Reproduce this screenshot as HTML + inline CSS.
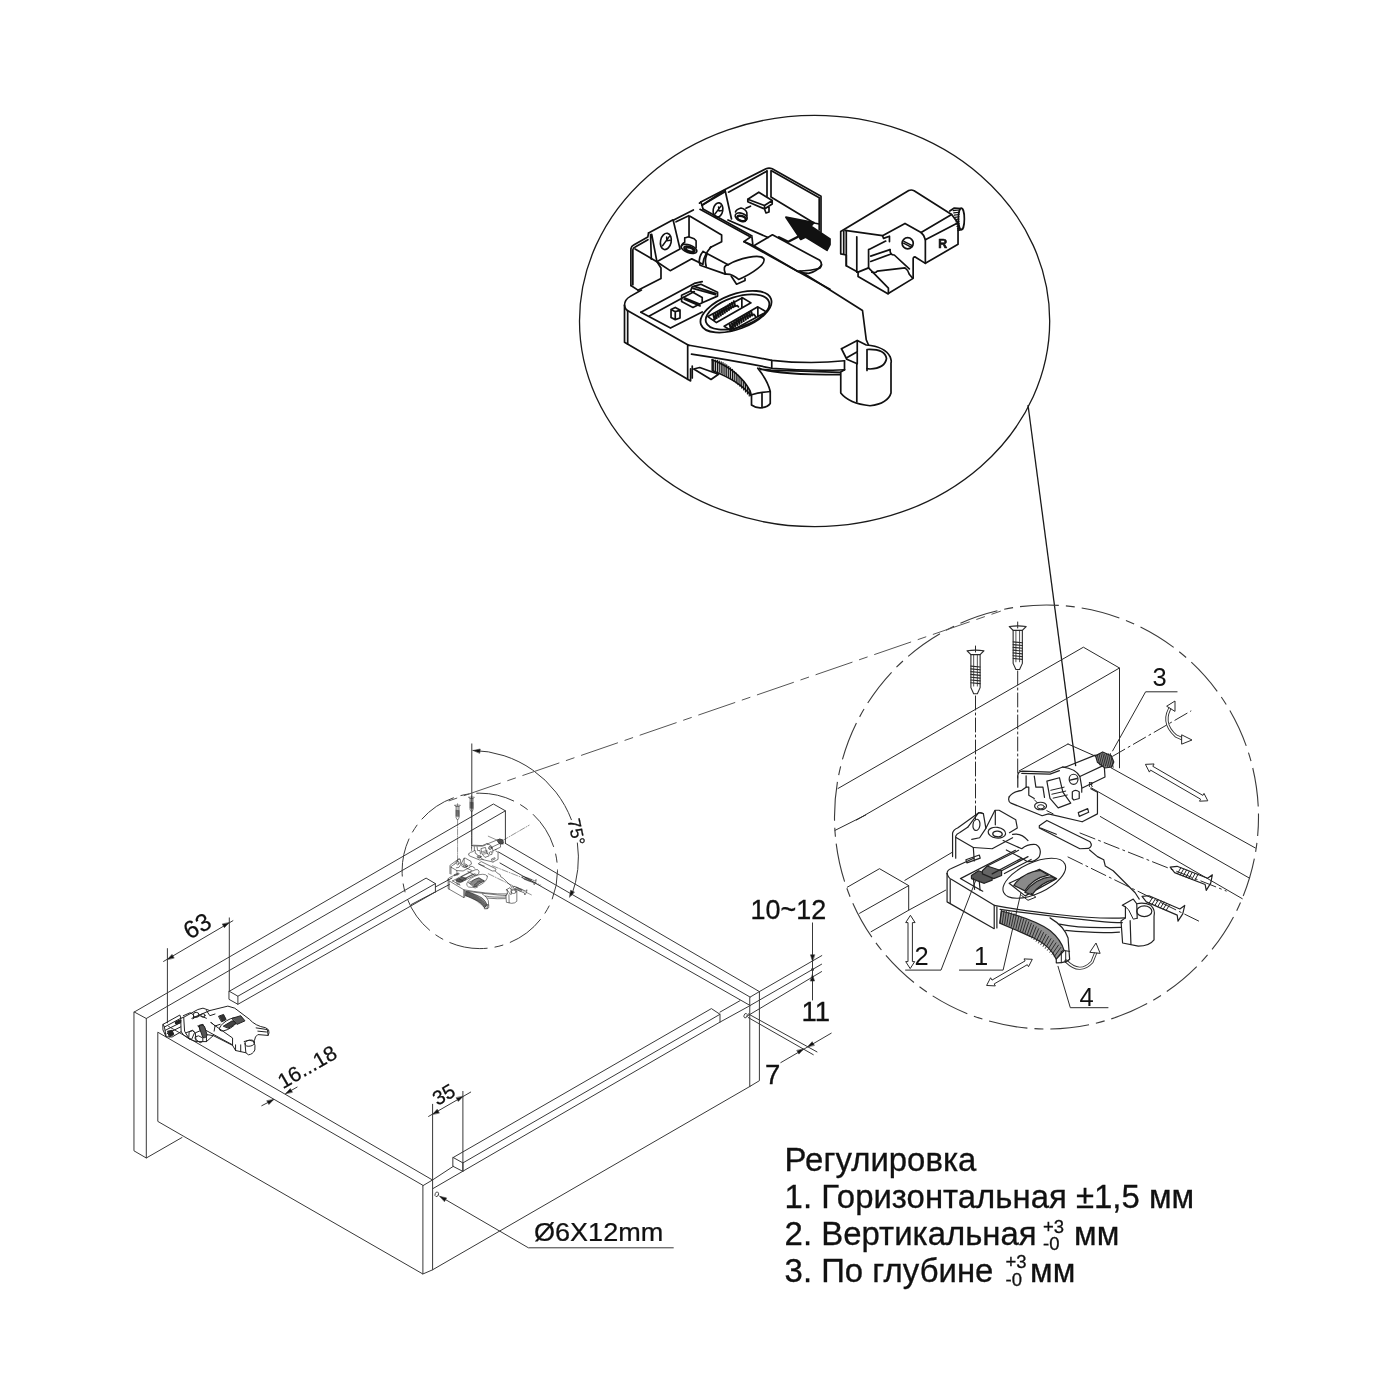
<!DOCTYPE html>
<html><head><meta charset="utf-8"><style>
html,body{margin:0;padding:0;background:#fff;width:1400px;height:1400px;overflow:hidden}
svg{display:block;filter:grayscale(1)}
</style></head><body>
<svg width="1400" height="1400" viewBox="0 0 1400 1400">
<rect width="1400" height="1400" fill="#fff"/>
<ellipse cx="814.6" cy="321.05" rx="235.1" ry="205.6" fill="none" stroke="#1a1a1a" stroke-width="1.3"/>
<line x1="1028" y1="405" x2="1075.7" y2="766.2" stroke="#1a1a1a" stroke-width="1.3" />
<g transform="translate(615 160) scale(0.264286)" fill="none" stroke="#111" stroke-linejoin="round" stroke-linecap="round"><path d="M333,346 L428,396 M322,398 L418,432 M333,346 Q312,372 322,398" fill="none" stroke-width="1.700" vector-effect="non-scaling-stroke" /><path d="M348,356 Q338,378 345,402" fill="none" stroke-width="1.700" vector-effect="non-scaling-stroke" /><path d="M418,432 Q405,400 428,396" fill="none" stroke-width="1.700" vector-effect="non-scaling-stroke" /><path d="M428,396 C470,372 545,355 562,372 C575,392 520,430 468,452 C455,440 440,430 418,432" fill="none" stroke-width="1.700" vector-effect="non-scaling-stroke" /><path d="M440,440 L460,470 L492,456 L492,448" fill="none" stroke-width="1.700" vector-effect="non-scaling-stroke" /><path d="M100,492 L58,516 Q36,528 36,550 L36,690 L275,830" fill="none" stroke-width="1.700" vector-effect="non-scaling-stroke" /><path d="M48,572 L48,697" fill="none" stroke-width="1.700" vector-effect="non-scaling-stroke" /><path d="M36,550 Q38,566 52,572 L280,702" fill="none" stroke-width="1.700" vector-effect="non-scaling-stroke" /><path d="M275,702 L275,830 L286,836 L286,790" fill="none" stroke-width="1.700" vector-effect="non-scaling-stroke" /><path d="M98,576 L300,467 L330,460" fill="none" stroke-width="1.700" vector-effect="non-scaling-stroke" /><path d="M98,576 L210,636 L330,575" fill="none" stroke-width="1.700" vector-effect="non-scaling-stroke" /><path d="M130,590 L300,498" fill="none" stroke-width="1.700" vector-effect="non-scaling-stroke" /><path d="M212,566 L228,558 L246,568 L246,598 L228,604 L212,596 Z M228,574 L228,604 M212,566 L228,574 L246,568" fill="none" stroke-width="1.700" vector-effect="non-scaling-stroke" /><path d="M252,512 L286,496 L330,520 L330,540 L295,558 L252,535 Z M286,496 L292,480 L325,470 L388,500 L388,515 L330,540" fill="none" stroke-width="1.700" vector-effect="non-scaling-stroke" /><path d="M260,520 L320,545 M262,527 L322,552 M295,486 L380,510 M300,478 L382,505" fill="none" stroke-width="1.700" vector-effect="non-scaling-stroke" /></g>
<g transform="translate(830 180) scale(0.107143)" fill="none" stroke="#111" stroke-linejoin="round" stroke-linecap="round"><path d="M100,480 L735,98 Q760,88 785,100 L1135,322 L1195,400 L1195,600 L890,778 L795,718 Q776,716 776,735 L776,918 L540,1062 L262,900 L262,860 L152,800 L152,700 L100,690 Z" fill="none" stroke-width="1.700" vector-effect="non-scaling-stroke" /><path d="M140,470 L490,520 L700,405 L850,490 Q880,515 890,557 L890,778" fill="none" stroke-width="1.700" vector-effect="non-scaling-stroke" /><path d="M850,490 L1135,322 M890,557 L1195,400" fill="none" stroke-width="1.700" vector-effect="non-scaling-stroke" /><path d="M152,472 L152,800 M250,530 L250,860" fill="none" stroke-width="1.700" vector-effect="non-scaling-stroke" /><path d="M128,480 L128,690" fill="none" stroke-width="1.700" vector-effect="non-scaling-stroke" /><path d="M490,520 L500,545 L555,525 L555,575" fill="none" stroke-width="1.700" vector-effect="non-scaling-stroke" /><path d="M360,650 L520,570 M360,650 L360,820 L262,860" fill="none" stroke-width="1.700" vector-effect="non-scaling-stroke" /><path d="M380,710 L560,650 M380,760 L570,690 M360,820 L545,1010 M545,1010 L545,1060" fill="none" stroke-width="1.700" vector-effect="non-scaling-stroke" /><path d="M390,860 Q430,870 440,850 L700,820 Q730,840 740,880 L770,915" fill="none" stroke-width="1.700" vector-effect="non-scaling-stroke" /><path d="M560,650 Q560,700 600,700 L740,830" fill="none" stroke-width="1.700" vector-effect="non-scaling-stroke" /><path d="M1118,290 L1160,262 L1222,266" fill="none" stroke-width="1.700" vector-effect="non-scaling-stroke" /><path d="M1196,470 L1236,460" fill="none" stroke-width="1.700" vector-effect="non-scaling-stroke" /><ellipse cx="1226" cy="363" rx="28" ry="100" transform="rotate(0 1226 363)" fill="none" stroke-width="1.700" vector-effect="non-scaling-stroke"/><path d="M1150,286 L1205,280" fill="none" stroke-width="1.200" vector-effect="non-scaling-stroke" /><path d="M1155,307 L1205,301" fill="none" stroke-width="1.200" vector-effect="non-scaling-stroke" /><path d="M1160,328 L1205,322" fill="none" stroke-width="1.200" vector-effect="non-scaling-stroke" /><path d="M1165,349 L1205,343" fill="none" stroke-width="1.200" vector-effect="non-scaling-stroke" /><path d="M1170,370 L1205,364" fill="none" stroke-width="1.200" vector-effect="non-scaling-stroke" /><path d="M1175,391 L1205,385" fill="none" stroke-width="1.200" vector-effect="non-scaling-stroke" /><path d="M1180,412 L1205,406" fill="none" stroke-width="1.200" vector-effect="non-scaling-stroke" /><path d="M1185,433 L1205,427" fill="none" stroke-width="1.200" vector-effect="non-scaling-stroke" /><path d="M1190,454 L1205,448" fill="none" stroke-width="1.200" vector-effect="non-scaling-stroke" /><circle cx="725" cy="590" r="52" stroke-width="1.7" vector-effect="non-scaling-stroke"/><path d="M690,572 L768,612 M686,590 L762,628" fill="none" stroke-width="1.400" vector-effect="non-scaling-stroke" /><text x="1010" y="635" font-family="Liberation Sans, sans-serif" font-weight="bold" font-size="115" fill="#111" stroke="#111" stroke-width="6">R</text></g>
<g transform="translate(625 210) scale(0.078571)" fill="none" stroke="#111" stroke-linejoin="round" stroke-linecap="round"><path d="M75,960 L75,495 Q80,460 110,445 L290,345 L300,292" fill="none" stroke-width="1.700" vector-effect="non-scaling-stroke" /><path d="M100,950 L100,505 Q105,480 130,470 L292,378" fill="none" stroke-width="1.700" vector-effect="non-scaling-stroke" /><path d="M75,960 L165,1020" fill="none" stroke-width="1.700" vector-effect="non-scaling-stroke" /><path d="M128,495 L395,652 L410,662 L458,738 L458,872 L165,1020" fill="none" stroke-width="1.700" vector-effect="non-scaling-stroke" /><path d="M410,662 L575,772 L850,622 L990,690" fill="none" stroke-width="1.700" vector-effect="non-scaling-stroke" /><path d="M300,292 L612,125 L700,495 L410,655" fill="none" stroke-width="1.700" vector-effect="non-scaling-stroke" /><path d="M325,312 L335,625 M340,310 L405,650" fill="none" stroke-width="1.700" vector-effect="non-scaling-stroke" /><path d="M620,128 L870,0 M650,150 L812,72" fill="none" stroke-width="1.700" vector-effect="non-scaling-stroke" /><path d="M815,80 L815,340 M828,80 L1230,318 L1230,405 L1085,478" fill="none" stroke-width="1.700" vector-effect="non-scaling-stroke" /><path d="M1095,470 Q1000,580 990,690" fill="none" stroke-width="1.700" vector-effect="non-scaling-stroke" /><ellipse cx="520" cy="400" rx="68" ry="105" transform="rotate(12 520 400)" fill="none" stroke-width="1.600" vector-effect="non-scaling-stroke"/><path d="M478,455 L565,335 M530,345 L532,392 L575,385" fill="none" stroke-width="1.500" vector-effect="non-scaling-stroke" /><path d="M760,355 L810,340 L880,365 L905,392 L905,480 M715,470 Q720,430 760,410 L760,355" fill="none" stroke-width="1.600" vector-effect="non-scaling-stroke" /><ellipse cx="815" cy="495" rx="105" ry="50" transform="rotate(20 815 495)" fill="none" stroke-width="1.600" vector-effect="non-scaling-stroke"/><ellipse cx="820" cy="500" rx="70" ry="32" transform="rotate(20 820 500)" fill="none" stroke-width="2.200" vector-effect="non-scaling-stroke"/><ellipse cx="823" cy="504" rx="50" ry="20" transform="rotate(20 823 504)" fill="none" stroke-width="1.600" vector-effect="non-scaling-stroke"/></g>
<g transform="translate(690 160) scale(0.100000)" fill="none" stroke="#111" stroke-linejoin="round" stroke-linecap="round"><path d="M95,432 L108,420 L350,295 L760,88 Q790,74 822,88 L1310,362 L1310,720" fill="none" stroke-width="1.700" vector-effect="non-scaling-stroke" /><path d="M120,452 L350,318 M385,322 L768,112 M815,108 L1292,378 L1292,700" fill="none" stroke-width="1.700" vector-effect="non-scaling-stroke" /><path d="M770,108 L770,362 M810,108 L810,362" fill="none" stroke-width="1.700" vector-effect="non-scaling-stroke" /><path d="M810,370 L1240,630 L1292,640" fill="none" stroke-width="1.700" vector-effect="non-scaling-stroke" /><path d="M120,452 L350,300 L415,590" fill="none" stroke-width="1.700" vector-effect="non-scaling-stroke" /><path d="M108,420 L120,452 L130,490" fill="none" stroke-width="1.700" vector-effect="non-scaling-stroke" /><ellipse cx="280" cy="500" rx="48" ry="72" transform="rotate(10 280 500)" fill="none" stroke-width="1.600" vector-effect="non-scaling-stroke"/><path d="M250,540 L310,460 M285,470 L290,510 L320,505" fill="none" stroke-width="1.400" vector-effect="non-scaling-stroke" /><path d="M455,520 Q460,495 510,480 Q555,490 568,525 L570,560" fill="none" stroke-width="1.600" vector-effect="non-scaling-stroke" /><ellipse cx="512" cy="570" rx="62" ry="38" transform="rotate(18 512 570)" fill="none" stroke-width="1.600" vector-effect="non-scaling-stroke"/><ellipse cx="515" cy="585" rx="45" ry="24" transform="rotate(18 515 585)" fill="none" stroke-width="2.400" vector-effect="non-scaling-stroke"/><path d="M578,392 L688,322 L822,405 L822,440 L745,490 L578,418 Z M578,392 L745,455 L822,405 M745,455 L745,490 M745,490 L760,530 L790,520 L790,470" fill="none" stroke-width="1.700" vector-effect="non-scaling-stroke" /><path d="M605,462 L560,482" fill="none" stroke-width="1.700" vector-effect="non-scaling-stroke" /><path d="M130,490 L620,760" fill="none" stroke-width="1.700" vector-effect="non-scaling-stroke" /><path d="M380,600 L780,775" fill="none" stroke-width="1.700" vector-effect="non-scaling-stroke" /></g>
<g transform="translate(700 200) scale(0.092857)" fill="none" stroke="#111" stroke-linejoin="round" stroke-linecap="round"><path d="M0,100 L545,398 L472,448 L580,492 M560,402 L570,490" fill="none" stroke-width="1.700" vector-effect="non-scaling-stroke" /><path d="M580,492 L780,375 L1290,650 Q1325,690 1290,735 Q1200,760 1050,768 Z" fill="none" stroke-width="1.700" vector-effect="non-scaling-stroke" /><path d="M1045,765 Q1100,790 1170,790 Q1260,770 1310,700" fill="none" stroke-width="1.700" vector-effect="non-scaling-stroke" /><path d="M472,448 L1400,960" fill="none" stroke-width="1.700" vector-effect="non-scaling-stroke" /><path d="M850,402 L950,450 L1050,398" fill="none" stroke-width="2.400" vector-effect="non-scaling-stroke" /><path d="M925,185 L1228,243 L1195,282 L1400,420 L1400,480 L1368,542 L1135,400 L1085,425 Z" fill="#111" stroke-width="1.700" vector-effect="non-scaling-stroke" /></g>
<g transform="translate(695 280) scale(0.057143)" fill="none" stroke="#111" stroke-linejoin="round" stroke-linecap="round"><ellipse cx="717.5" cy="554.75" rx="652.75" ry="304.5" transform="rotate(-20.3 717.5 554.75)" fill="none" stroke-width="1.800" vector-effect="non-scaling-stroke"/><ellipse cx="743.75" cy="560" rx="579" ry="264" transform="rotate(-18 743.75 560)" fill="none" stroke-width="1.800" vector-effect="non-scaling-stroke"/><path d="M225,640 L830,310 L980,400 L375,745 Z M820,310 L820,480" fill="none" stroke-width="1.700" vector-effect="non-scaling-stroke" /><path d="M510,810 L1100,470 L1250,560 L640,890 Z M1100,470 L1100,640" fill="none" stroke-width="1.700" vector-effect="non-scaling-stroke" /><path d="M345,690 L325,615" fill="none" stroke-width="2.200" vector-effect="non-scaling-stroke" /><path d="M380,666 L360,591" fill="none" stroke-width="2.200" vector-effect="non-scaling-stroke" /><path d="M416,642 L396,567" fill="none" stroke-width="2.200" vector-effect="non-scaling-stroke" /><path d="M452,618 L432,543" fill="none" stroke-width="2.200" vector-effect="non-scaling-stroke" /><path d="M487,594 L467,519" fill="none" stroke-width="2.200" vector-effect="non-scaling-stroke" /><path d="M522,570 L502,495" fill="none" stroke-width="2.200" vector-effect="non-scaling-stroke" /><path d="M558,546 L538,471" fill="none" stroke-width="2.200" vector-effect="non-scaling-stroke" /><path d="M594,522 L574,447" fill="none" stroke-width="2.200" vector-effect="non-scaling-stroke" /><path d="M629,498 L609,423" fill="none" stroke-width="2.200" vector-effect="non-scaling-stroke" /><path d="M664,474 L644,399" fill="none" stroke-width="2.200" vector-effect="non-scaling-stroke" /><path d="M700,450 L680,375" fill="none" stroke-width="2.200" vector-effect="non-scaling-stroke" /><path d="M330,700 Q430,520 740,450 L760,470" fill="none" stroke-width="1.800" vector-effect="non-scaling-stroke" /><path d="M630,860 L610,785" fill="none" stroke-width="2.200" vector-effect="non-scaling-stroke" /><path d="M667,836 L647,761" fill="none" stroke-width="2.200" vector-effect="non-scaling-stroke" /><path d="M704,812 L684,737" fill="none" stroke-width="2.200" vector-effect="non-scaling-stroke" /><path d="M741,788 L721,713" fill="none" stroke-width="2.200" vector-effect="non-scaling-stroke" /><path d="M778,764 L758,689" fill="none" stroke-width="2.200" vector-effect="non-scaling-stroke" /><path d="M815,740 L795,665" fill="none" stroke-width="2.200" vector-effect="non-scaling-stroke" /><path d="M852,716 L832,641" fill="none" stroke-width="2.200" vector-effect="non-scaling-stroke" /><path d="M889,692 L869,617" fill="none" stroke-width="2.200" vector-effect="non-scaling-stroke" /><path d="M926,668 L906,593" fill="none" stroke-width="2.200" vector-effect="non-scaling-stroke" /><path d="M963,644 L943,569" fill="none" stroke-width="2.200" vector-effect="non-scaling-stroke" /><path d="M1000,620 L980,545" fill="none" stroke-width="2.200" vector-effect="non-scaling-stroke" /><path d="M610,870 Q720,660 1030,600 L1060,640" fill="none" stroke-width="1.800" vector-effect="non-scaling-stroke" /></g>
<g transform="translate(690 300) scale(0.150000)" fill="none" stroke="#111" stroke-linejoin="round" stroke-linecap="round"><path d="M-15,300 Q300,355 545,402 Q800,430 1030,405" fill="none" stroke-width="1.700" vector-effect="non-scaling-stroke" /><path d="M10,361 Q300,405 545,455 Q800,475 1030,465" fill="none" stroke-width="1.700" vector-effect="non-scaling-stroke" /><path d="M545,402 L545,455 M1030,405 L1030,465" fill="none" stroke-width="1.700" vector-effect="non-scaling-stroke" /><path d="M462,455 Q560,498 1000,498 M470,462 L540,468 L1000,482" fill="none" stroke-width="1.700" vector-effect="non-scaling-stroke" /><path d="M25,460 L65,450 L190,495 L140,530 Z" fill="none" stroke-width="1.700" vector-effect="non-scaling-stroke" /><path d="M15,440 L15,520" fill="none" stroke-width="1.700" vector-effect="non-scaling-stroke" /><path d="M148,398 Q330,470 400,605 L410,640 L410,700 Q440,722 480,718 Q520,712 535,690 L535,610 Q520,540 452,455" fill="none" stroke-width="1.700" vector-effect="non-scaling-stroke" /><path d="M148,398 L148,470 Q330,540 410,640" fill="none" stroke-width="1.500" vector-effect="non-scaling-stroke" /><path d="M410,632 Q470,615 535,610 M480,625 L480,716" fill="none" stroke-width="1.700" vector-effect="non-scaling-stroke" /><path d="M158,400 L158,472" fill="none" stroke-width="1.200" vector-effect="non-scaling-stroke" /><path d="M170,401 L170,474" fill="none" stroke-width="1.200" vector-effect="non-scaling-stroke" /><path d="M183,403 L183,477" fill="none" stroke-width="1.200" vector-effect="non-scaling-stroke" /><path d="M195,407 L195,481" fill="none" stroke-width="1.200" vector-effect="non-scaling-stroke" /><path d="M208,412 L208,486" fill="none" stroke-width="1.200" vector-effect="non-scaling-stroke" /><path d="M220,418 L220,492" fill="none" stroke-width="1.200" vector-effect="non-scaling-stroke" /><path d="M233,425 L233,499" fill="none" stroke-width="1.200" vector-effect="non-scaling-stroke" /><path d="M245,433 L245,506" fill="none" stroke-width="1.200" vector-effect="non-scaling-stroke" /><path d="M258,442 L258,514" fill="none" stroke-width="1.200" vector-effect="non-scaling-stroke" /><path d="M270,452 L270,523" fill="none" stroke-width="1.200" vector-effect="non-scaling-stroke" /><path d="M283,463 L283,532" fill="none" stroke-width="1.200" vector-effect="non-scaling-stroke" /><path d="M295,475 L295,542" fill="none" stroke-width="1.200" vector-effect="non-scaling-stroke" /><path d="M308,487 L308,553" fill="none" stroke-width="1.200" vector-effect="non-scaling-stroke" /><path d="M320,501 L320,564" fill="none" stroke-width="1.200" vector-effect="non-scaling-stroke" /><path d="M333,515 L333,575" fill="none" stroke-width="1.200" vector-effect="non-scaling-stroke" /><path d="M345,531 L345,587" fill="none" stroke-width="1.200" vector-effect="non-scaling-stroke" /><path d="M358,547 L358,600" fill="none" stroke-width="1.200" vector-effect="non-scaling-stroke" /><path d="M370,564 L370,613" fill="none" stroke-width="1.200" vector-effect="non-scaling-stroke" /><path d="M383,581 L383,626" fill="none" stroke-width="1.200" vector-effect="non-scaling-stroke" /><path d="M395,600 L395,640" fill="none" stroke-width="1.200" vector-effect="non-scaling-stroke" /><path d="M1010,325 L1115,270 L1175,300 Q1300,310 1335,380 Q1345,410 1340,420 L1340,620 Q1320,690 1200,705 Q1060,690 1005,620 L1005,480 L1030,465" fill="none" stroke-width="1.700" vector-effect="non-scaling-stroke" /><path d="M1010,325 L1045,395 L1115,425 L1115,270 M1045,385 L1115,345" fill="none" stroke-width="1.700" vector-effect="non-scaling-stroke" /><path d="M1180,330 Q1300,325 1310,390 Q1300,455 1200,460 L1180,458 L1180,330" fill="none" stroke-width="1.700" vector-effect="non-scaling-stroke" /><path d="M1112,425 L1112,680 M1180,458 L1180,470" fill="none" stroke-width="1.700" vector-effect="non-scaling-stroke" /><path d="M733,-193 L1150,70 L1175,265 L1190,300" fill="none" stroke-width="1.700" vector-effect="non-scaling-stroke" /></g>
<g transform="translate(0 0) scale(1.000000)" fill="none" stroke="#2a2a2a" stroke-linejoin="round" stroke-linecap="round"><path d="M838,788.5 L1083.4,647.2 L1119.5,668 L1119.5,767.8" fill="none" stroke-width="1.000" vector-effect="non-scaling-stroke" /><path d="M856.5,820 L1119.5,668" fill="none" stroke-width="1.000" vector-effect="non-scaling-stroke" /><path d="M1019.3,770.8 L1068,744" fill="none" stroke-width="1.000" vector-effect="non-scaling-stroke" /><path d="M904.9,880.3 L951.7,852.6" fill="none" stroke-width="1.000" vector-effect="non-scaling-stroke" /><path d="M847.3,887.2 L879.5,868.7 L908.7,885.6 L908.7,910.2 M859.6,913.3 L908.7,885.6" fill="none" stroke-width="1.000" vector-effect="non-scaling-stroke" /><path d="M871.1,931.7 L908.7,910.2 L945.6,890.2" fill="none" stroke-width="1.000" vector-effect="non-scaling-stroke" /><path d="M835,830.4 L865.7,815" fill="none" stroke-width="1.000" vector-effect="non-scaling-stroke" /><path d="M1111,767.8 L1255.4,848" fill="none" stroke-width="1.000" vector-effect="non-scaling-stroke" /><path d="M1091,787.7 L1249.2,878" fill="none" stroke-width="1.000" vector-effect="non-scaling-stroke" /><path d="M1100.3,816.5 L1242.3,898.7" fill="none" stroke-width="1.000" vector-effect="non-scaling-stroke" /><path d="M1177.1,691.8 L1145.6,691.8 L1112.6,750.9" fill="none" stroke-width="1.000" vector-effect="non-scaling-stroke" /><path d="M905.6,970.1 L941,970.1 L975.5,881" fill="none" stroke-width="1.000" vector-effect="non-scaling-stroke" /><path d="M959.4,970.1 L1003.1,970.1 L1020.8,893.3" fill="none" stroke-width="1.000" vector-effect="non-scaling-stroke" /><path d="M1108,1007.7 L1070.3,1007.7 L1058,966.3" fill="none" stroke-width="1.000" vector-effect="non-scaling-stroke" /><path d="M1145.6,764.7 L1149.4,772.1 L1150.5,770.1 L1200.6,799.2 L1199.5,801.2 L1207.8,800.8 L1204.0,793.4 L1202.9,795.4 L1152.8,766.3 L1153.9,764.3 Z" fill="#fff" stroke-width="1.000" vector-effect="non-scaling-stroke" /><path d="M910.2,915.6 L905.7,922.6 L908.0,922.6 L908.0,961.6 L905.7,961.6 L910.2,968.6 L914.7,961.6 L912.4,961.6 L912.4,922.6 L914.7,922.6 Z" fill="#fff" stroke-width="1.000" vector-effect="non-scaling-stroke" /><path d="M987.0,985.5 L995.3,985.9 L994.2,983.9 L1027.3,964.7 L1028.5,966.7 L1032.3,959.3 L1024.0,958.9 L1025.1,960.9 L992.0,980.1 L990.8,978.1 Z" fill="#fff" stroke-width="1.000" vector-effect="non-scaling-stroke" /><path d="M1172,705 Q1160,722 1176,736 L1185,740" fill="none" stroke-width="3.200" vector-effect="non-scaling-stroke" stroke="#333"/><path d="M1172,705 Q1160,722 1176,736 L1185,740" fill="none" stroke-width="1.400" vector-effect="non-scaling-stroke" stroke="#fff"/><path d="M1167,706 L1175,701 L1175,711 Z M1182,735 L1192,740 L1182,744 Z" fill="#fff" stroke-width="1.000" vector-effect="non-scaling-stroke" /><path d="M1066,961 Q1080,975 1092,962 L1096,952" fill="none" stroke-width="3.200" vector-effect="non-scaling-stroke" stroke="#333"/><path d="M1066,961 Q1080,975 1092,962 L1096,952" fill="none" stroke-width="1.400" vector-effect="non-scaling-stroke" stroke="#fff"/><path d="M1090,952 L1096,943 L1100,953 Z" fill="#fff" stroke-width="1.000" vector-effect="non-scaling-stroke" /><g font-family="Liberation Sans, sans-serif" fill="#111" stroke="none" font-size="25.5"><text x="1152.5" y="685.6">3</text><text x="914.5" y="964.7">2</text><text x="974" y="964.7">1</text><text x="1079.5" y="1006.2">4</text></g></g>
<g transform="translate(0 0) scale(1.000000)" fill="none" stroke="#383838" stroke-linejoin="round" stroke-linecap="round"><path d="M134.3,1012 L146.3,1018.5 L146.3,1158 L134.3,1151 Z" fill="none" stroke-width="1.000" vector-effect="non-scaling-stroke" /><path d="M134.3,1012 L493.4,804 L505.4,810.8 L505.4,843.4" fill="none" stroke-width="1.000" vector-effect="non-scaling-stroke" /><path d="M146.3,1018.5 L505.4,810.8" fill="none" stroke-width="1.000" vector-effect="non-scaling-stroke" /><path d="M146.3,1158 L182,1137.5" fill="none" stroke-width="1.000" vector-effect="non-scaling-stroke" /><path d="M229.3,991.3 L237.9,996.2 L237.9,1004.3 L229.3,999.5 Z" fill="none" stroke-width="1.000" vector-effect="non-scaling-stroke" /><path d="M229.3,991.3 L426.1,878.1 L435.4,883.6 L435.4,892" fill="none" stroke-width="1.000" vector-effect="non-scaling-stroke" /><path d="M237.9,996.2 L435.4,883.6" fill="none" stroke-width="1.000" vector-effect="non-scaling-stroke" /><path d="M237.9,1004.3 L435.4,892" fill="none" stroke-width="1.000" vector-effect="non-scaling-stroke" /><path d="M435.4,887 L452,878" fill="none" stroke-width="1.000" vector-effect="non-scaling-stroke" /><path d="M411.3,904.5 L449.3,884.6" fill="none" stroke-width="1.000" vector-effect="non-scaling-stroke" /><path d="M157.8,1032.6 L157.8,1121.4 L422.9,1274 L422.9,1185.7 Z" fill="none" stroke-width="1.000" vector-effect="non-scaling-stroke" /><path d="M168.6,1026.4 L432.5,1180" fill="none" stroke-width="1.000" vector-effect="non-scaling-stroke" /><path d="M422.9,1185.7 L432.5,1180" fill="none" stroke-width="1.000" vector-effect="non-scaling-stroke" /><path d="M432.6,1104.3 L432.6,1269.8 L422.9,1274" fill="none" stroke-width="1.000" vector-effect="non-scaling-stroke" /><path d="M432.6,1269.8 L750.1,1086.3" fill="none" stroke-width="1.000" vector-effect="non-scaling-stroke" /><path d="M432.5,1180 L453.2,1166.4" fill="none" stroke-width="1.000" vector-effect="non-scaling-stroke" /><path d="M432.9,1188.6 L720,1022.1 L748.6,1006.4" fill="none" stroke-width="1.000" vector-effect="non-scaling-stroke" /><path d="M453.2,1157.5 L462.9,1162.9 L462.9,1171.4 L453.2,1166.4 Z" fill="none" stroke-width="1.000" vector-effect="non-scaling-stroke" /><path d="M453.2,1157.5 L711.4,1008.6 L720,1014.3 L720,1022.1" fill="none" stroke-width="1.000" vector-effect="non-scaling-stroke" /><path d="M462.9,1162.9 L720,1014.3" fill="none" stroke-width="1.000" vector-effect="non-scaling-stroke" /><path d="M720,1012.1 L740,1000.7" fill="none" stroke-width="1.000" vector-effect="non-scaling-stroke" /><path d="M750.1,997.1 L759.4,991.6 L759.4,1080.7 L750.1,1086.3 Z" fill="none" stroke-width="1.000" vector-effect="non-scaling-stroke" /><path d="M505.4,843.4 L759.4,991.6" fill="none" stroke-width="1.000" vector-effect="non-scaling-stroke" /><path d="M498.5,852 L750.1,997.1" fill="none" stroke-width="1.000" vector-effect="non-scaling-stroke" /><path d="M500,863 L750.1,1005.5" fill="none" stroke-width="1.000" vector-effect="non-scaling-stroke" /><path d="M759.4,991.6 L821.8,955.6" fill="none" stroke-width="1.000" vector-effect="non-scaling-stroke" /><path d="M750.1,1005.5 L821.6,964.2" fill="none" stroke-width="1.000" vector-effect="non-scaling-stroke" /><path d="M747.8,1015.7 L821.6,971.6" fill="none" stroke-width="1.000" vector-effect="non-scaling-stroke" /><ellipse cx="745.6" cy="1015.7" rx="1.6" ry="2.3" transform="rotate(20 745.6 1015.7)" fill="none" stroke-width="0.900" vector-effect="non-scaling-stroke"/><ellipse cx="436.8" cy="1194.3" rx="1.7" ry="2.4" transform="rotate(20 436.8 1194.3)" fill="none" stroke-width="0.900" vector-effect="non-scaling-stroke"/><path d="M748.3,1013.9 L817,1051.9" fill="none" stroke-width="1.000" vector-effect="non-scaling-stroke" /><path d="M748.3,1017.6 L813.3,1054.7" fill="none" stroke-width="1.000" vector-effect="non-scaling-stroke" /><path d="M780.8,1062.6 L831.2,1033.2" fill="none" stroke-width="1.000" vector-effect="non-scaling-stroke" /><path d="M812.5,922.9 L812.5,1000" fill="none" stroke-width="1.000" vector-effect="non-scaling-stroke" /><path d="M462.9,1091.4 L462.9,1171.4" fill="none" stroke-width="1.000" vector-effect="non-scaling-stroke" /><path d="M428.6,1116.4 L470.7,1092.1" fill="none" stroke-width="1.000" vector-effect="non-scaling-stroke" /><path d="M167.4,948.6 L167.4,1022.9" fill="none" stroke-width="1.000" vector-effect="non-scaling-stroke" /><path d="M229.3,917.9 L229.3,991.4" fill="none" stroke-width="1.000" vector-effect="non-scaling-stroke" /><path d="M163.6,961.4 L232.9,920.7" fill="none" stroke-width="1.000" vector-effect="non-scaling-stroke" /><path d="M261.8,1105.7 L273.6,1099.6" fill="none" stroke-width="1.000" vector-effect="non-scaling-stroke" /><path d="M285.7,1093.6 L297.1,1087.1" fill="none" stroke-width="1.000" vector-effect="non-scaling-stroke" /><path d="M440,1196.4 L528.4,1247.8 L673.3,1247.8" fill="none" stroke-width="1.000" vector-effect="non-scaling-stroke" /><path d="M472.9,750.4 A107.4,107.4 0 0 1 571.4,819.7" fill="none" stroke-width="1.000" vector-effect="non-scaling-stroke" /><path d="M577.4,843.0 A107.4,107.4 0 0 1 571.7,895.1" fill="none" stroke-width="1.000" vector-effect="non-scaling-stroke" /><path d="M471.8,743.9 L471.8,845.7" fill="none" stroke-width="1.000" vector-effect="non-scaling-stroke" /><path d="M167.4,959.4 L172.0,954.4 L174.0,957.8 Z" fill="#111" stroke-width="0.600" vector-effect="non-scaling-stroke" /><path d="M229.0,922.7 L224.4,927.7 L222.4,924.3 Z" fill="#111" stroke-width="0.600" vector-effect="non-scaling-stroke" /><path d="M432.6,1114.3 L437.2,1109.3 L439.2,1112.8 Z" fill="#111" stroke-width="0.600" vector-effect="non-scaling-stroke" /><path d="M462.9,1096.4 L458.3,1101.4 L456.3,1097.9 Z" fill="#111" stroke-width="0.600" vector-effect="non-scaling-stroke" /><path d="M273.6,1099.6 L268.9,1104.5 L266.9,1101.0 Z" fill="#111" stroke-width="0.600" vector-effect="non-scaling-stroke" /><path d="M285.7,1093.6 L290.3,1088.6 L292.3,1092.0 Z" fill="#111" stroke-width="0.600" vector-effect="non-scaling-stroke" /><path d="M440.0,1196.4 L446.6,1197.9 L444.6,1201.4 Z" fill="#111" stroke-width="0.600" vector-effect="non-scaling-stroke" /><path d="M812.5,961.3 L810.5,954.8 L814.5,954.8 Z" fill="#111" stroke-width="0.600" vector-effect="non-scaling-stroke" /><path d="M812.5,974.5 L814.5,981.0 L810.5,981.0 Z" fill="#111" stroke-width="0.600" vector-effect="non-scaling-stroke" /><path d="M473.5,750.4 L480.2,749.0 L479.8,753.0 Z" fill="#111" stroke-width="0.600" vector-effect="non-scaling-stroke" /><path d="M569.5,897.0 L570.6,890.3 L574.2,892.1 Z" fill="#111" stroke-width="0.600" vector-effect="non-scaling-stroke" /><path d="M803.5,1049.1 L798.9,1054.1 L796.9,1050.7 Z" fill="#111" stroke-width="0.600" vector-effect="non-scaling-stroke" /><path d="M807.6,1046.7 L812.2,1041.7 L814.2,1045.1 Z" fill="#111" stroke-width="0.600" vector-effect="non-scaling-stroke" /><ellipse cx="812.5" cy="969.6" rx="0.9" ry="0.9" transform="rotate(0 812.5 969.6)" fill="none" stroke-width="1.200" vector-effect="non-scaling-stroke"/><g font-family="Liberation Sans, sans-serif" fill="#111" stroke="#111" stroke-width="0.25"><text x="0" y="0" font-size="24.5" transform="translate(189.6 940) rotate(-30)">63</text><text x="0" y="0" font-size="21" transform="translate(282.9 1089.3) rotate(-30)">16...18</text><text x="0" y="0" font-size="20" transform="translate(437.5 1106) rotate(-30)">35</text><text x="0" y="0" font-size="17.8" transform="translate(567.6 820) rotate(78)">75°</text><text x="0" y="0" font-size="25.7" transform="translate(534 1241.3) scale(1.053 1)">Ø6X12mm</text></g></g>
<g transform="translate(155 990) scale(0.085714)" fill="none" stroke="#222" stroke-linejoin="round" stroke-linecap="round"><path d="M95,400 L290,292 L302,330 L335,318 L500,228 L560,212 L640,240 L850,188 L930,212 L1100,340 Q1170,420 1290,440 Q1340,460 1330,500 L1320,530 L1200,520 Q1165,540 1160,590 L1150,600 Q1175,640 1165,700 Q1140,752 1090,756 L1060,732 L940,706 L905,646 L680,532 L600,602 L480,602 L400,572 L330,522 L305,486 L200,548 L130,546 L95,470 Z" fill="none" stroke-width="1.000" vector-effect="non-scaling-stroke" /><path d="M95,400 L110,432 L300,330 M110,432 L130,546 M300,330 L305,486" fill="none" stroke-width="1.000" vector-effect="non-scaling-stroke" /><path d="M120,470 L300,380 M140,510 L300,430" fill="none" stroke-width="1.000" vector-effect="non-scaling-stroke" /><path d="M335,318 L345,480 L400,572" fill="none" stroke-width="1.000" vector-effect="non-scaling-stroke" /><path d="M430,330 L640,240 M440,335 Q480,300 525,300 L600,330" fill="none" stroke-width="1.000" vector-effect="non-scaling-stroke" /><ellipse cx="480" cy="290" rx="34" ry="30" transform="rotate(0 480 290)" fill="none" stroke-width="1.000" vector-effect="non-scaling-stroke"/><ellipse cx="560" cy="296" rx="24" ry="20" transform="rotate(0 560 296)" fill="none" stroke-width="1.000" vector-effect="non-scaling-stroke"/><ellipse cx="860" cy="400" rx="125" ry="48" transform="rotate(-32 860 400)" fill="none" stroke-width="1.000" vector-effect="non-scaling-stroke"/><path d="M650,380 L905,560 L905,646" fill="none" stroke-width="1.000" vector-effect="non-scaling-stroke" /><path d="M500,420 L905,640" fill="none" stroke-width="1.000" vector-effect="non-scaling-stroke" /><path d="M600,520 L680,532 M480,602 L470,500 L540,470 L600,520 L600,602" fill="none" stroke-width="1.000" vector-effect="non-scaling-stroke" /><path d="M360,500 L440,470 L470,500" fill="none" stroke-width="1.000" vector-effect="non-scaling-stroke" /><path d="M1180,442 L1310,462 L1320,528 M1200,480 L1300,490" fill="none" stroke-width="1.000" vector-effect="non-scaling-stroke" /><ellipse cx="1105" cy="620" rx="55" ry="35" transform="rotate(-10 1105 620)" fill="none" stroke-width="1.000" vector-effect="non-scaling-stroke"/><path d="M940,706 L940,640 M1000,640 L1000,720 M1050,620 L1060,732" fill="none" stroke-width="1.000" vector-effect="non-scaling-stroke" /><path d="M1040,600 Q1100,570 1160,600" fill="none" stroke-width="1.000" vector-effect="non-scaling-stroke" /><path d="M150,480 L200,470 L220,520 L170,545 Z" fill="#222" stroke-width="1.000" vector-effect="non-scaling-stroke" /><path d="M745,305 L800,285 L830,345 L780,370 Z" fill="#333" stroke-width="1.000" vector-effect="non-scaling-stroke" /><path d="M512,415 L560,400 L585,460 L535,478 Z" fill="#333" stroke-width="1.000" vector-effect="non-scaling-stroke" /><path d="M800,420 L900,360 L960,380 L860,445 Z" fill="#444" stroke-width="1.000" vector-effect="non-scaling-stroke" /><path d="M900,330 L1000,300 L1050,360 L960,400 Z" fill="#555" stroke-width="1.000" vector-effect="non-scaling-stroke" /><path d="M240,370 L290,350 L300,380 L250,400 Z" fill="#444" stroke-width="1.000" vector-effect="non-scaling-stroke" /><path d="M403,485 L438,475 L463,495 L428,575 L398,565 Z" fill="none" stroke-width="1.000" vector-effect="non-scaling-stroke" /><path d="M473,545 L508,535 L558,560 L558,600 L528,615 L473,575 Z" fill="none" stroke-width="1.000" vector-effect="non-scaling-stroke" /><path d="M523,410 Q558,400 578,425 L608,525 Q598,565 558,555 L523,455 Z" fill="#555" stroke-width="1.000" vector-effect="non-scaling-stroke" /><path d="M243,385 L298,360" fill="none" stroke-width="2.000" vector-effect="non-scaling-stroke" /><path d="M330,300 L410,265 L450,290 L450,330 M600,240 L640,300 L700,280" fill="none" stroke-width="1.000" vector-effect="non-scaling-stroke" /><path d="M660,380 L700,420 L760,400 M700,420 L690,480" fill="none" stroke-width="1.000" vector-effect="non-scaling-stroke" /></g>
<g transform="translate(0 0) scale(1.000000)" fill="none" stroke="#2a2a2a" stroke-linejoin="round" stroke-linecap="round"><path d="M975.5,646 L975.5,652 M975.5,696 L975.5,820" fill="none" stroke-width="1.000" vector-effect="non-scaling-stroke" stroke-dasharray="14.00 3.00 2.00 3.00"/><path d="M1017.7,622 L1017.7,628 M1017.7,671 L1017.7,780" fill="none" stroke-width="1.000" vector-effect="non-scaling-stroke" stroke-dasharray="14.00 3.00 2.00 3.00"/><path d="M1112.6,756.3 L1190.9,711" fill="none" stroke-width="1.000" vector-effect="non-scaling-stroke" stroke-dasharray="14.00 4.00 2.00 4.00"/><path d="M1080,833 L1226.2,891" fill="none" stroke-width="1.000" vector-effect="non-scaling-stroke" stroke-dasharray="16.00 4.00 2.00 4.00"/><path d="M1068,857 L1198.6,921" fill="none" stroke-width="1.000" vector-effect="non-scaling-stroke" stroke-dasharray="16.00 4.00 2.00 4.00"/></g><g transform="translate(835 605) scale(0.153563)" fill="none" stroke="#2a2a2a" stroke-linejoin="round" stroke-linecap="round"><path d="M860,298 Q915,290 970,298 L945,323 L945,538 L927,578 L903,578 L885,538 L885,323 Z" fill="none" stroke-width="1.100" vector-effect="non-scaling-stroke" /><path d="M885,323 L945,323" fill="none" stroke-width="1.100" vector-effect="non-scaling-stroke" /><path d="M885,398 L945,404" fill="none" stroke-width="1.100" vector-effect="non-scaling-stroke" /><path d="M885,416 L945,422" fill="none" stroke-width="1.100" vector-effect="non-scaling-stroke" /><path d="M885,434 L945,440" fill="none" stroke-width="1.100" vector-effect="non-scaling-stroke" /><path d="M885,452 L945,458" fill="none" stroke-width="1.100" vector-effect="non-scaling-stroke" /><path d="M885,470 L945,476" fill="none" stroke-width="1.100" vector-effect="non-scaling-stroke" /><path d="M885,488 L945,494" fill="none" stroke-width="1.100" vector-effect="non-scaling-stroke" /><path d="M885,506 L945,512" fill="none" stroke-width="1.100" vector-effect="non-scaling-stroke" /><path d="M903,323 L903,528 M927,323 L927,528" fill="none" stroke-width="0.800" vector-effect="non-scaling-stroke" /><path d="M1135,140 Q1190,132 1245,140 L1220,165 L1220,380 L1202,420 L1178,420 L1160,380 L1160,165 Z" fill="none" stroke-width="1.100" vector-effect="non-scaling-stroke" /><path d="M1160,165 L1220,165" fill="none" stroke-width="1.100" vector-effect="non-scaling-stroke" /><path d="M1160,240 L1220,246" fill="none" stroke-width="1.100" vector-effect="non-scaling-stroke" /><path d="M1160,258 L1220,264" fill="none" stroke-width="1.100" vector-effect="non-scaling-stroke" /><path d="M1160,276 L1220,282" fill="none" stroke-width="1.100" vector-effect="non-scaling-stroke" /><path d="M1160,294 L1220,300" fill="none" stroke-width="1.100" vector-effect="non-scaling-stroke" /><path d="M1160,312 L1220,318" fill="none" stroke-width="1.100" vector-effect="non-scaling-stroke" /><path d="M1160,330 L1220,336" fill="none" stroke-width="1.100" vector-effect="non-scaling-stroke" /><path d="M1160,348 L1220,354" fill="none" stroke-width="1.100" vector-effect="non-scaling-stroke" /><path d="M1178,165 L1178,370 M1202,165 L1202,370" fill="none" stroke-width="0.800" vector-effect="non-scaling-stroke" /></g><g transform="translate(940 740) scale(0.157143)" fill="none" stroke="#222" stroke-linejoin="round" stroke-linecap="round"><path d="M814.5,25.5 L990.8,103.8" fill="none" stroke-width="1.000" vector-effect="non-scaling-stroke" /><path d="M495,300 L495,225 Q497,200 525,198 L700,205 L780,172 L800,172" fill="none" stroke-width="1.200" vector-effect="non-scaling-stroke" /><path d="M780,172 Q862,182 890,232 L902,300 L902,332" fill="none" stroke-width="1.200" vector-effect="non-scaling-stroke" /><path d="M890,232 L1045,160 L1050,235 L905,305" fill="none" stroke-width="1.200" vector-effect="non-scaling-stroke" /><path d="M800,172 L988,96" fill="none" stroke-width="1.200" vector-effect="non-scaling-stroke" /><path d="M990,100 L1035,76 L1090,100 L1106,140 L1092,172 L1050,178 L1002,142 Z" fill="#8a8a8a" stroke-width="1.200" vector-effect="non-scaling-stroke" /><path d="M1000,92 L1018,160" fill="none" stroke-width="0.900" vector-effect="non-scaling-stroke" /><path d="M1012,90 L1030,162" fill="none" stroke-width="0.900" vector-effect="non-scaling-stroke" /><path d="M1024,88 L1042,164" fill="none" stroke-width="0.900" vector-effect="non-scaling-stroke" /><path d="M1036,86 L1054,166" fill="none" stroke-width="0.900" vector-effect="non-scaling-stroke" /><path d="M1048,92 L1066,168" fill="none" stroke-width="0.900" vector-effect="non-scaling-stroke" /><path d="M1060,90 L1078,170" fill="none" stroke-width="0.900" vector-effect="non-scaling-stroke" /><path d="M1072,88 L1090,172" fill="none" stroke-width="0.900" vector-effect="non-scaling-stroke" /><path d="M1084,86 L1102,174" fill="none" stroke-width="0.900" vector-effect="non-scaling-stroke" /><ellipse cx="850" cy="250" rx="28" ry="32" transform="rotate(0 850 250)" fill="none" stroke-width="1.200" vector-effect="non-scaling-stroke"/><path d="M828,255 L872,245" fill="none" stroke-width="1.400" vector-effect="non-scaling-stroke" /><text x="945" y="296" font-family="Liberation Sans, sans-serif" font-weight="bold" font-size="40" fill="#222" stroke="none">R</text><path d="M520,212 L700,217 L760,195 M548,228 L548,300 L565,300 L565,352 L600,372" fill="none" stroke-width="1.200" vector-effect="non-scaling-stroke" /><path d="M600,230 L610,300 L655,300 L665,365" fill="none" stroke-width="1.200" vector-effect="non-scaling-stroke" /><path d="M680,262 L760,240 L782,332 L832,402 L752,432 L700,372 Z" fill="none" stroke-width="1.200" vector-effect="non-scaling-stroke" /><path d="M705,320 L790,300 M712,345 L800,325 M720,370 L810,350" fill="none" stroke-width="1.000" vector-effect="non-scaling-stroke" /><path d="M842,330 Q862,310 886,330 L886,372 L852,382 L842,372 Z" fill="none" stroke-width="1.200" vector-effect="non-scaling-stroke" /><path d="M960,310 L1002,332 L1002,470 L905,520" fill="none" stroke-width="1.200" vector-effect="non-scaling-stroke" /><path d="M880,462 L940,437 L946,460 L886,486 Z" fill="none" stroke-width="1.200" vector-effect="non-scaling-stroke" /><path d="M440,362 Q430,392 452,402 L650,482 L690,470 L905,520" fill="none" stroke-width="1.200" vector-effect="non-scaling-stroke" /><path d="M440,362 Q460,330 520,320 L548,300" fill="none" stroke-width="1.200" vector-effect="non-scaling-stroke" /><ellipse cx="640" cy="420" rx="38" ry="24" transform="rotate(0 640 420)" fill="none" stroke-width="1.200" vector-effect="non-scaling-stroke"/><ellipse cx="642" cy="425" rx="22" ry="13" transform="rotate(0 642 425)" fill="none" stroke-width="1.000" vector-effect="non-scaling-stroke"/><path d="M620,400 L600,380 M680,450 L720,470" fill="none" stroke-width="1.000" vector-effect="non-scaling-stroke" /><path d="M80,742 L80,592 Q85,570 112,560 L242,466 Q262,455 276,470" fill="none" stroke-width="1.200" vector-effect="non-scaling-stroke" /><path d="M100,752 L100,612 Q105,597 126,589 L176,556" fill="none" stroke-width="1.200" vector-effect="non-scaling-stroke" /><path d="M102,620 L212,684 L218,770" fill="none" stroke-width="1.200" vector-effect="non-scaling-stroke" /><path d="M176,556 L246,462 L276,468 L292,562 L252,622 L202,632" fill="none" stroke-width="1.200" vector-effect="non-scaling-stroke" /><ellipse cx="232" cy="540" rx="22" ry="36" transform="rotate(8 232 540)" fill="none" stroke-width="1.200" vector-effect="non-scaling-stroke"/><path d="M292,562 L350,447 L376,447 L482,507 L492,560 L442,590" fill="none" stroke-width="1.200" vector-effect="non-scaling-stroke" /><path d="M352,449 L352,540" fill="none" stroke-width="1.200" vector-effect="non-scaling-stroke" /><ellipse cx="362" cy="590" rx="56" ry="34" transform="rotate(8 362 590)" fill="none" stroke-width="1.200" vector-effect="non-scaling-stroke"/><ellipse cx="366" cy="598" rx="30" ry="18" transform="rotate(8 366 598)" fill="none" stroke-width="1.400" vector-effect="non-scaling-stroke"/><path d="M212,684 L332,692 L462,622" fill="none" stroke-width="1.200" vector-effect="non-scaling-stroke" /><path d="M402,640 L520,692 Q560,660 610,665 Q652,690 632,742 Q602,782 552,772 L502,742 L422,700" fill="none" stroke-width="1.200" vector-effect="non-scaling-stroke" /><path d="M462,600 Q520,590 560,640" fill="none" stroke-width="1.200" vector-effect="non-scaling-stroke" /><path d="M45,850 Q45,828 72,818 L215,752" fill="none" stroke-width="1.200" vector-effect="non-scaling-stroke" /><path d="M45,850 L45,1030 L342,1200" fill="none" stroke-width="1.200" vector-effect="non-scaling-stroke" /><path d="M65,888 L65,1040" fill="none" stroke-width="1.200" vector-effect="non-scaling-stroke" /><path d="M45,850 Q55,880 72,886 L345,1052 L345,1200 M362,1062 L362,1196" fill="none" stroke-width="1.200" vector-effect="non-scaling-stroke" /><path d="M345,1052 Q500,1082 760,1112 Q1000,1140 1180,1132" fill="none" stroke-width="1.200" vector-effect="non-scaling-stroke" /><path d="M382,1078 Q700,1122 1000,1152 Q1100,1162 1160,1162" fill="none" stroke-width="1.200" vector-effect="non-scaling-stroke" /><path d="M952,700 L1002,742 L1042,762 L1052,802 L1102,832 L1242,972 Q1258,998 1268,1012" fill="none" stroke-width="1.200" vector-effect="non-scaling-stroke" /><path d="M760,1172 Q900,1202 1150,1192 M800,1212 Q1000,1232 1142,1222" fill="none" stroke-width="1.200" vector-effect="non-scaling-stroke" /><path d="M632,545 L680,512 L955,648 Q975,675 945,690 L890,692 L632,560 Z" fill="none" stroke-width="1.200" vector-effect="non-scaling-stroke" /><path d="M640,560 L740,600" fill="none" stroke-width="1.200" vector-effect="non-scaling-stroke" /><path d="M1160,1052 L1230,1012 L1252,1042 Q1302,1032 1342,1052 Q1372,1082 1362,1122 L1362,1272 Q1332,1312 1262,1312 L1162,1292 L1152,1152 L1180,1132 L1180,1062 Z" fill="none" stroke-width="1.200" vector-effect="non-scaling-stroke" /><ellipse cx="1300" cy="1090" rx="48" ry="34" transform="rotate(0 1300 1090)" fill="none" stroke-width="1.200" vector-effect="non-scaling-stroke"/><path d="M1252,1042 L1255,1135 M1210,1150 L1215,1300" fill="none" stroke-width="1.200" vector-effect="non-scaling-stroke" /><path d="M1180,1062 L1200,1080 L1230,1140 L1252,1135" fill="none" stroke-width="1.000" vector-effect="non-scaling-stroke" /><path d="M130,882 L480,702 M130,882 L232,940 L272,962" fill="none" stroke-width="1.200" vector-effect="non-scaling-stroke" /><path d="M165,762 L250,732 L256,752 L171,782 Z" fill="none" stroke-width="1.200" vector-effect="non-scaling-stroke" /><path d="M200,862 L245,832 L332,862 L332,892 L282,912 L200,882 Z" fill="#555" stroke-width="1.200" vector-effect="non-scaling-stroke" /><path d="M270,832 L300,802 L392,832 L392,862 L342,882 L270,852 Z" fill="#666" stroke-width="1.200" vector-effect="non-scaling-stroke" /><path d="M300,802 L500,702 M332,852 L520,752 M392,832 L560,742 M410,850 L580,760" fill="none" stroke-width="1.200" vector-effect="non-scaling-stroke" /><path d="M212,880 L220,950 M250,900 L255,955" fill="none" stroke-width="1.200" vector-effect="non-scaling-stroke" /><ellipse cx="600" cy="880" rx="215" ry="98" transform="rotate(-25 600 880)" fill="none" stroke-width="1.100" vector-effect="non-scaling-stroke"/><path d="M440,912 L632,822 L742,882 L542,992 Z" fill="none" stroke-width="1.200" vector-effect="non-scaling-stroke" /><path d="M470,925 Q530,840 640,830 L690,860 Q590,880 540,960 Z" fill="#8a8a8a" stroke-width="1.200" vector-effect="non-scaling-stroke" /><path d="M540,970 Q610,880 710,870 L735,885 Q640,905 585,985 Z" fill="#7a7a7a" stroke-width="1.200" vector-effect="non-scaling-stroke" /><path d="M520,990 L560,1020 L610,1000 L580,975" fill="none" stroke-width="1.000" vector-effect="non-scaling-stroke" /><path d="M390,1088 Q600,1142 700,1212 Q770,1270 790,1340 L740,1395 Q700,1310 600,1262 Q500,1215 380,1165 Z" fill="#8f8f8f" stroke-width="1.200" vector-effect="non-scaling-stroke" /><path d="M392,1084 L382,1166" fill="none" stroke-width="0.900" vector-effect="non-scaling-stroke" /><path d="M408,1086 L396,1168" fill="none" stroke-width="0.900" vector-effect="non-scaling-stroke" /><path d="M423,1090 L411,1171" fill="none" stroke-width="0.900" vector-effect="non-scaling-stroke" /><path d="M439,1094 L425,1175" fill="none" stroke-width="0.900" vector-effect="non-scaling-stroke" /><path d="M455,1100 L440,1180" fill="none" stroke-width="0.900" vector-effect="non-scaling-stroke" /><path d="M471,1106 L454,1186" fill="none" stroke-width="0.900" vector-effect="non-scaling-stroke" /><path d="M486,1114 L468,1192" fill="none" stroke-width="0.900" vector-effect="non-scaling-stroke" /><path d="M502,1121 L483,1199" fill="none" stroke-width="0.900" vector-effect="non-scaling-stroke" /><path d="M518,1129 L497,1207" fill="none" stroke-width="0.900" vector-effect="non-scaling-stroke" /><path d="M533,1138 L512,1214" fill="none" stroke-width="0.900" vector-effect="non-scaling-stroke" /><path d="M549,1147 L526,1223" fill="none" stroke-width="0.900" vector-effect="non-scaling-stroke" /><path d="M565,1157 L540,1231" fill="none" stroke-width="0.900" vector-effect="non-scaling-stroke" /><path d="M581,1167 L555,1240" fill="none" stroke-width="0.900" vector-effect="non-scaling-stroke" /><path d="M596,1178 L569,1250" fill="none" stroke-width="0.900" vector-effect="non-scaling-stroke" /><path d="M612,1189 L584,1260" fill="none" stroke-width="0.900" vector-effect="non-scaling-stroke" /><path d="M628,1201 L598,1270" fill="none" stroke-width="0.900" vector-effect="non-scaling-stroke" /><path d="M644,1213 L612,1281" fill="none" stroke-width="0.900" vector-effect="non-scaling-stroke" /><path d="M659,1225 L627,1292" fill="none" stroke-width="0.900" vector-effect="non-scaling-stroke" /><path d="M675,1237 L641,1303" fill="none" stroke-width="0.900" vector-effect="non-scaling-stroke" /><path d="M691,1250 L656,1314" fill="none" stroke-width="0.900" vector-effect="non-scaling-stroke" /><path d="M706,1264 L670,1326" fill="none" stroke-width="0.900" vector-effect="non-scaling-stroke" /><path d="M722,1277 L684,1338" fill="none" stroke-width="0.900" vector-effect="non-scaling-stroke" /><path d="M738,1291 L699,1351" fill="none" stroke-width="0.900" vector-effect="non-scaling-stroke" /><path d="M754,1305 L713,1364" fill="none" stroke-width="0.900" vector-effect="non-scaling-stroke" /><path d="M769,1320 L728,1377" fill="none" stroke-width="0.900" vector-effect="non-scaling-stroke" /><path d="M785,1335 L742,1390" fill="none" stroke-width="0.900" vector-effect="non-scaling-stroke" /><path d="M700,1132 Q790,1185 815,1260 L825,1395 Q800,1420 740,1418 L740,1395" fill="none" stroke-width="1.200" vector-effect="non-scaling-stroke" /><path d="M790,1340 L825,1345 M772,1345 L772,1417 M800,1342 L800,1416" fill="none" stroke-width="1.000" vector-effect="non-scaling-stroke" /></g><g transform="translate(1045 815) scale(0.153563)" fill="none" stroke="#222" stroke-linejoin="round" stroke-linecap="round"><path d="M815,340 L844,375 L1043,453 L1050,491 L1079,444 L1090,389 L1059,412 L860,334 Z" fill="none" stroke-width="1.200" vector-effect="non-scaling-stroke" /><path d="M863,382 L884,344" fill="none" stroke-width="1.000" vector-effect="non-scaling-stroke" /><path d="M881,390 L903,351" fill="none" stroke-width="1.000" vector-effect="non-scaling-stroke" /><path d="M900,397 L922,358" fill="none" stroke-width="1.000" vector-effect="non-scaling-stroke" /><path d="M919,404 L940,366" fill="none" stroke-width="1.000" vector-effect="non-scaling-stroke" /><path d="M937,412 L959,373" fill="none" stroke-width="1.000" vector-effect="non-scaling-stroke" /><path d="M956,419 L978,380" fill="none" stroke-width="1.000" vector-effect="non-scaling-stroke" /><path d="M975,426 L996,387" fill="none" stroke-width="1.000" vector-effect="non-scaling-stroke" /><path d="M632,530 L660,566 L861,652 L866,691 L897,644 L910,589 L878,612 L677,526 Z" fill="none" stroke-width="1.200" vector-effect="non-scaling-stroke" /><path d="M678,574 L701,536" fill="none" stroke-width="1.000" vector-effect="non-scaling-stroke" /><path d="M697,582 L720,544" fill="none" stroke-width="1.000" vector-effect="non-scaling-stroke" /><path d="M715,590 L738,552" fill="none" stroke-width="1.000" vector-effect="non-scaling-stroke" /><path d="M734,598 L756,560" fill="none" stroke-width="1.000" vector-effect="non-scaling-stroke" /><path d="M752,605 L775,567" fill="none" stroke-width="1.000" vector-effect="non-scaling-stroke" /><path d="M770,613 L793,575" fill="none" stroke-width="1.000" vector-effect="non-scaling-stroke" /><path d="M789,621 L812,583" fill="none" stroke-width="1.000" vector-effect="non-scaling-stroke" /></g>
<g transform="translate(133.7 589.2) scale(0.332)"><g transform="translate(0 0) scale(1.000000)" fill="none" stroke="#2a2a2a" stroke-linejoin="round" stroke-linecap="round"><path d="M975.5,646 L975.5,652 M975.5,696 L975.5,820" fill="none" stroke-width="0.500" vector-effect="non-scaling-stroke" stroke-dasharray="5.60 1.20 0.80 1.20"/><path d="M1017.7,622 L1017.7,628 M1017.7,671 L1017.7,780" fill="none" stroke-width="0.500" vector-effect="non-scaling-stroke" stroke-dasharray="5.60 1.20 0.80 1.20"/><path d="M1112.6,756.3 L1190.9,711" fill="none" stroke-width="0.500" vector-effect="non-scaling-stroke" stroke-dasharray="5.60 1.60 0.80 1.60"/><path d="M1080,833 L1226.2,891" fill="none" stroke-width="0.500" vector-effect="non-scaling-stroke" stroke-dasharray="6.40 1.60 0.80 1.60"/><path d="M1068,857 L1198.6,921" fill="none" stroke-width="0.500" vector-effect="non-scaling-stroke" stroke-dasharray="6.40 1.60 0.80 1.60"/></g><g transform="translate(835 605) scale(0.153563)" fill="none" stroke="#2a2a2a" stroke-linejoin="round" stroke-linecap="round"><path d="M860,298 Q915,290 970,298 L945,323 L945,538 L927,578 L903,578 L885,538 L885,323 Z" fill="none" stroke-width="0.550" vector-effect="non-scaling-stroke" /><path d="M885,323 L945,323" fill="none" stroke-width="0.550" vector-effect="non-scaling-stroke" /><path d="M885,398 L945,404" fill="none" stroke-width="0.550" vector-effect="non-scaling-stroke" /><path d="M885,416 L945,422" fill="none" stroke-width="0.550" vector-effect="non-scaling-stroke" /><path d="M885,434 L945,440" fill="none" stroke-width="0.550" vector-effect="non-scaling-stroke" /><path d="M885,452 L945,458" fill="none" stroke-width="0.550" vector-effect="non-scaling-stroke" /><path d="M885,470 L945,476" fill="none" stroke-width="0.550" vector-effect="non-scaling-stroke" /><path d="M885,488 L945,494" fill="none" stroke-width="0.550" vector-effect="non-scaling-stroke" /><path d="M885,506 L945,512" fill="none" stroke-width="0.550" vector-effect="non-scaling-stroke" /><path d="M903,323 L903,528 M927,323 L927,528" fill="none" stroke-width="0.400" vector-effect="non-scaling-stroke" /><path d="M1135,140 Q1190,132 1245,140 L1220,165 L1220,380 L1202,420 L1178,420 L1160,380 L1160,165 Z" fill="none" stroke-width="0.550" vector-effect="non-scaling-stroke" /><path d="M1160,165 L1220,165" fill="none" stroke-width="0.550" vector-effect="non-scaling-stroke" /><path d="M1160,240 L1220,246" fill="none" stroke-width="0.550" vector-effect="non-scaling-stroke" /><path d="M1160,258 L1220,264" fill="none" stroke-width="0.550" vector-effect="non-scaling-stroke" /><path d="M1160,276 L1220,282" fill="none" stroke-width="0.550" vector-effect="non-scaling-stroke" /><path d="M1160,294 L1220,300" fill="none" stroke-width="0.550" vector-effect="non-scaling-stroke" /><path d="M1160,312 L1220,318" fill="none" stroke-width="0.550" vector-effect="non-scaling-stroke" /><path d="M1160,330 L1220,336" fill="none" stroke-width="0.550" vector-effect="non-scaling-stroke" /><path d="M1160,348 L1220,354" fill="none" stroke-width="0.550" vector-effect="non-scaling-stroke" /><path d="M1178,165 L1178,370 M1202,165 L1202,370" fill="none" stroke-width="0.400" vector-effect="non-scaling-stroke" /></g><g transform="translate(940 740) scale(0.157143)" fill="none" stroke="#222" stroke-linejoin="round" stroke-linecap="round"><path d="M814.5,25.5 L990.8,103.8" fill="none" stroke-width="0.500" vector-effect="non-scaling-stroke" /><path d="M495,300 L495,225 Q497,200 525,198 L700,205 L780,172 L800,172" fill="none" stroke-width="0.600" vector-effect="non-scaling-stroke" /><path d="M780,172 Q862,182 890,232 L902,300 L902,332" fill="none" stroke-width="0.600" vector-effect="non-scaling-stroke" /><path d="M890,232 L1045,160 L1050,235 L905,305" fill="none" stroke-width="0.600" vector-effect="non-scaling-stroke" /><path d="M800,172 L988,96" fill="none" stroke-width="0.600" vector-effect="non-scaling-stroke" /><path d="M990,100 L1035,76 L1090,100 L1106,140 L1092,172 L1050,178 L1002,142 Z" fill="#8a8a8a" stroke-width="0.600" vector-effect="non-scaling-stroke" /><path d="M1000,92 L1018,160" fill="none" stroke-width="0.450" vector-effect="non-scaling-stroke" /><path d="M1012,90 L1030,162" fill="none" stroke-width="0.450" vector-effect="non-scaling-stroke" /><path d="M1024,88 L1042,164" fill="none" stroke-width="0.450" vector-effect="non-scaling-stroke" /><path d="M1036,86 L1054,166" fill="none" stroke-width="0.450" vector-effect="non-scaling-stroke" /><path d="M1048,92 L1066,168" fill="none" stroke-width="0.450" vector-effect="non-scaling-stroke" /><path d="M1060,90 L1078,170" fill="none" stroke-width="0.450" vector-effect="non-scaling-stroke" /><path d="M1072,88 L1090,172" fill="none" stroke-width="0.450" vector-effect="non-scaling-stroke" /><path d="M1084,86 L1102,174" fill="none" stroke-width="0.450" vector-effect="non-scaling-stroke" /><ellipse cx="850" cy="250" rx="28" ry="32" transform="rotate(0 850 250)" fill="none" stroke-width="0.600" vector-effect="non-scaling-stroke"/><path d="M828,255 L872,245" fill="none" stroke-width="0.700" vector-effect="non-scaling-stroke" /><text x="945" y="296" font-family="Liberation Sans, sans-serif" font-weight="bold" font-size="40" fill="#222" stroke="none">R</text><path d="M520,212 L700,217 L760,195 M548,228 L548,300 L565,300 L565,352 L600,372" fill="none" stroke-width="0.600" vector-effect="non-scaling-stroke" /><path d="M600,230 L610,300 L655,300 L665,365" fill="none" stroke-width="0.600" vector-effect="non-scaling-stroke" /><path d="M680,262 L760,240 L782,332 L832,402 L752,432 L700,372 Z" fill="none" stroke-width="0.600" vector-effect="non-scaling-stroke" /><path d="M705,320 L790,300 M712,345 L800,325 M720,370 L810,350" fill="none" stroke-width="0.500" vector-effect="non-scaling-stroke" /><path d="M842,330 Q862,310 886,330 L886,372 L852,382 L842,372 Z" fill="none" stroke-width="0.600" vector-effect="non-scaling-stroke" /><path d="M960,310 L1002,332 L1002,470 L905,520" fill="none" stroke-width="0.600" vector-effect="non-scaling-stroke" /><path d="M880,462 L940,437 L946,460 L886,486 Z" fill="none" stroke-width="0.600" vector-effect="non-scaling-stroke" /><path d="M440,362 Q430,392 452,402 L650,482 L690,470 L905,520" fill="none" stroke-width="0.600" vector-effect="non-scaling-stroke" /><path d="M440,362 Q460,330 520,320 L548,300" fill="none" stroke-width="0.600" vector-effect="non-scaling-stroke" /><ellipse cx="640" cy="420" rx="38" ry="24" transform="rotate(0 640 420)" fill="none" stroke-width="0.600" vector-effect="non-scaling-stroke"/><ellipse cx="642" cy="425" rx="22" ry="13" transform="rotate(0 642 425)" fill="none" stroke-width="0.500" vector-effect="non-scaling-stroke"/><path d="M620,400 L600,380 M680,450 L720,470" fill="none" stroke-width="0.500" vector-effect="non-scaling-stroke" /><path d="M80,742 L80,592 Q85,570 112,560 L242,466 Q262,455 276,470" fill="none" stroke-width="0.600" vector-effect="non-scaling-stroke" /><path d="M100,752 L100,612 Q105,597 126,589 L176,556" fill="none" stroke-width="0.600" vector-effect="non-scaling-stroke" /><path d="M102,620 L212,684 L218,770" fill="none" stroke-width="0.600" vector-effect="non-scaling-stroke" /><path d="M176,556 L246,462 L276,468 L292,562 L252,622 L202,632" fill="none" stroke-width="0.600" vector-effect="non-scaling-stroke" /><ellipse cx="232" cy="540" rx="22" ry="36" transform="rotate(8 232 540)" fill="none" stroke-width="0.600" vector-effect="non-scaling-stroke"/><path d="M292,562 L350,447 L376,447 L482,507 L492,560 L442,590" fill="none" stroke-width="0.600" vector-effect="non-scaling-stroke" /><path d="M352,449 L352,540" fill="none" stroke-width="0.600" vector-effect="non-scaling-stroke" /><ellipse cx="362" cy="590" rx="56" ry="34" transform="rotate(8 362 590)" fill="none" stroke-width="0.600" vector-effect="non-scaling-stroke"/><ellipse cx="366" cy="598" rx="30" ry="18" transform="rotate(8 366 598)" fill="none" stroke-width="0.700" vector-effect="non-scaling-stroke"/><path d="M212,684 L332,692 L462,622" fill="none" stroke-width="0.600" vector-effect="non-scaling-stroke" /><path d="M402,640 L520,692 Q560,660 610,665 Q652,690 632,742 Q602,782 552,772 L502,742 L422,700" fill="none" stroke-width="0.600" vector-effect="non-scaling-stroke" /><path d="M462,600 Q520,590 560,640" fill="none" stroke-width="0.600" vector-effect="non-scaling-stroke" /><path d="M45,850 Q45,828 72,818 L215,752" fill="none" stroke-width="0.600" vector-effect="non-scaling-stroke" /><path d="M45,850 L45,1030 L342,1200" fill="none" stroke-width="0.600" vector-effect="non-scaling-stroke" /><path d="M65,888 L65,1040" fill="none" stroke-width="0.600" vector-effect="non-scaling-stroke" /><path d="M45,850 Q55,880 72,886 L345,1052 L345,1200 M362,1062 L362,1196" fill="none" stroke-width="0.600" vector-effect="non-scaling-stroke" /><path d="M345,1052 Q500,1082 760,1112 Q1000,1140 1180,1132" fill="none" stroke-width="0.600" vector-effect="non-scaling-stroke" /><path d="M382,1078 Q700,1122 1000,1152 Q1100,1162 1160,1162" fill="none" stroke-width="0.600" vector-effect="non-scaling-stroke" /><path d="M952,700 L1002,742 L1042,762 L1052,802 L1102,832 L1242,972 Q1258,998 1268,1012" fill="none" stroke-width="0.600" vector-effect="non-scaling-stroke" /><path d="M760,1172 Q900,1202 1150,1192 M800,1212 Q1000,1232 1142,1222" fill="none" stroke-width="0.600" vector-effect="non-scaling-stroke" /><path d="M632,545 L680,512 L955,648 Q975,675 945,690 L890,692 L632,560 Z" fill="none" stroke-width="0.600" vector-effect="non-scaling-stroke" /><path d="M640,560 L740,600" fill="none" stroke-width="0.600" vector-effect="non-scaling-stroke" /><path d="M1160,1052 L1230,1012 L1252,1042 Q1302,1032 1342,1052 Q1372,1082 1362,1122 L1362,1272 Q1332,1312 1262,1312 L1162,1292 L1152,1152 L1180,1132 L1180,1062 Z" fill="none" stroke-width="0.600" vector-effect="non-scaling-stroke" /><ellipse cx="1300" cy="1090" rx="48" ry="34" transform="rotate(0 1300 1090)" fill="none" stroke-width="0.600" vector-effect="non-scaling-stroke"/><path d="M1252,1042 L1255,1135 M1210,1150 L1215,1300" fill="none" stroke-width="0.600" vector-effect="non-scaling-stroke" /><path d="M1180,1062 L1200,1080 L1230,1140 L1252,1135" fill="none" stroke-width="0.500" vector-effect="non-scaling-stroke" /><path d="M130,882 L480,702 M130,882 L232,940 L272,962" fill="none" stroke-width="0.600" vector-effect="non-scaling-stroke" /><path d="M165,762 L250,732 L256,752 L171,782 Z" fill="none" stroke-width="0.600" vector-effect="non-scaling-stroke" /><path d="M200,862 L245,832 L332,862 L332,892 L282,912 L200,882 Z" fill="#555" stroke-width="0.600" vector-effect="non-scaling-stroke" /><path d="M270,832 L300,802 L392,832 L392,862 L342,882 L270,852 Z" fill="#666" stroke-width="0.600" vector-effect="non-scaling-stroke" /><path d="M300,802 L500,702 M332,852 L520,752 M392,832 L560,742 M410,850 L580,760" fill="none" stroke-width="0.600" vector-effect="non-scaling-stroke" /><path d="M212,880 L220,950 M250,900 L255,955" fill="none" stroke-width="0.600" vector-effect="non-scaling-stroke" /><ellipse cx="600" cy="880" rx="215" ry="98" transform="rotate(-25 600 880)" fill="none" stroke-width="0.550" vector-effect="non-scaling-stroke"/><path d="M440,912 L632,822 L742,882 L542,992 Z" fill="none" stroke-width="0.600" vector-effect="non-scaling-stroke" /><path d="M470,925 Q530,840 640,830 L690,860 Q590,880 540,960 Z" fill="#8a8a8a" stroke-width="0.600" vector-effect="non-scaling-stroke" /><path d="M540,970 Q610,880 710,870 L735,885 Q640,905 585,985 Z" fill="#7a7a7a" stroke-width="0.600" vector-effect="non-scaling-stroke" /><path d="M520,990 L560,1020 L610,1000 L580,975" fill="none" stroke-width="0.500" vector-effect="non-scaling-stroke" /><path d="M390,1088 Q600,1142 700,1212 Q770,1270 790,1340 L740,1395 Q700,1310 600,1262 Q500,1215 380,1165 Z" fill="#8f8f8f" stroke-width="0.600" vector-effect="non-scaling-stroke" /><path d="M392,1084 L382,1166" fill="none" stroke-width="0.450" vector-effect="non-scaling-stroke" /><path d="M408,1086 L396,1168" fill="none" stroke-width="0.450" vector-effect="non-scaling-stroke" /><path d="M423,1090 L411,1171" fill="none" stroke-width="0.450" vector-effect="non-scaling-stroke" /><path d="M439,1094 L425,1175" fill="none" stroke-width="0.450" vector-effect="non-scaling-stroke" /><path d="M455,1100 L440,1180" fill="none" stroke-width="0.450" vector-effect="non-scaling-stroke" /><path d="M471,1106 L454,1186" fill="none" stroke-width="0.450" vector-effect="non-scaling-stroke" /><path d="M486,1114 L468,1192" fill="none" stroke-width="0.450" vector-effect="non-scaling-stroke" /><path d="M502,1121 L483,1199" fill="none" stroke-width="0.450" vector-effect="non-scaling-stroke" /><path d="M518,1129 L497,1207" fill="none" stroke-width="0.450" vector-effect="non-scaling-stroke" /><path d="M533,1138 L512,1214" fill="none" stroke-width="0.450" vector-effect="non-scaling-stroke" /><path d="M549,1147 L526,1223" fill="none" stroke-width="0.450" vector-effect="non-scaling-stroke" /><path d="M565,1157 L540,1231" fill="none" stroke-width="0.450" vector-effect="non-scaling-stroke" /><path d="M581,1167 L555,1240" fill="none" stroke-width="0.450" vector-effect="non-scaling-stroke" /><path d="M596,1178 L569,1250" fill="none" stroke-width="0.450" vector-effect="non-scaling-stroke" /><path d="M612,1189 L584,1260" fill="none" stroke-width="0.450" vector-effect="non-scaling-stroke" /><path d="M628,1201 L598,1270" fill="none" stroke-width="0.450" vector-effect="non-scaling-stroke" /><path d="M644,1213 L612,1281" fill="none" stroke-width="0.450" vector-effect="non-scaling-stroke" /><path d="M659,1225 L627,1292" fill="none" stroke-width="0.450" vector-effect="non-scaling-stroke" /><path d="M675,1237 L641,1303" fill="none" stroke-width="0.450" vector-effect="non-scaling-stroke" /><path d="M691,1250 L656,1314" fill="none" stroke-width="0.450" vector-effect="non-scaling-stroke" /><path d="M706,1264 L670,1326" fill="none" stroke-width="0.450" vector-effect="non-scaling-stroke" /><path d="M722,1277 L684,1338" fill="none" stroke-width="0.450" vector-effect="non-scaling-stroke" /><path d="M738,1291 L699,1351" fill="none" stroke-width="0.450" vector-effect="non-scaling-stroke" /><path d="M754,1305 L713,1364" fill="none" stroke-width="0.450" vector-effect="non-scaling-stroke" /><path d="M769,1320 L728,1377" fill="none" stroke-width="0.450" vector-effect="non-scaling-stroke" /><path d="M785,1335 L742,1390" fill="none" stroke-width="0.450" vector-effect="non-scaling-stroke" /><path d="M700,1132 Q790,1185 815,1260 L825,1395 Q800,1420 740,1418 L740,1395" fill="none" stroke-width="0.600" vector-effect="non-scaling-stroke" /><path d="M790,1340 L825,1345 M772,1345 L772,1417 M800,1342 L800,1416" fill="none" stroke-width="0.500" vector-effect="non-scaling-stroke" /></g><g transform="translate(1045 815) scale(0.153563)" fill="none" stroke="#222" stroke-linejoin="round" stroke-linecap="round"><path d="M815,340 L844,375 L1043,453 L1050,491 L1079,444 L1090,389 L1059,412 L860,334 Z" fill="none" stroke-width="0.600" vector-effect="non-scaling-stroke" /><path d="M863,382 L884,344" fill="none" stroke-width="0.500" vector-effect="non-scaling-stroke" /><path d="M881,390 L903,351" fill="none" stroke-width="0.500" vector-effect="non-scaling-stroke" /><path d="M900,397 L922,358" fill="none" stroke-width="0.500" vector-effect="non-scaling-stroke" /><path d="M919,404 L940,366" fill="none" stroke-width="0.500" vector-effect="non-scaling-stroke" /><path d="M937,412 L959,373" fill="none" stroke-width="0.500" vector-effect="non-scaling-stroke" /><path d="M956,419 L978,380" fill="none" stroke-width="0.500" vector-effect="non-scaling-stroke" /><path d="M975,426 L996,387" fill="none" stroke-width="0.500" vector-effect="non-scaling-stroke" /><path d="M632,530 L660,566 L861,652 L866,691 L897,644 L910,589 L878,612 L677,526 Z" fill="none" stroke-width="0.600" vector-effect="non-scaling-stroke" /><path d="M678,574 L701,536" fill="none" stroke-width="0.500" vector-effect="non-scaling-stroke" /><path d="M697,582 L720,544" fill="none" stroke-width="0.500" vector-effect="non-scaling-stroke" /><path d="M715,590 L738,552" fill="none" stroke-width="0.500" vector-effect="non-scaling-stroke" /><path d="M734,598 L756,560" fill="none" stroke-width="0.500" vector-effect="non-scaling-stroke" /><path d="M752,605 L775,567" fill="none" stroke-width="0.500" vector-effect="non-scaling-stroke" /><path d="M770,613 L793,575" fill="none" stroke-width="0.500" vector-effect="non-scaling-stroke" /><path d="M789,621 L812,583" fill="none" stroke-width="0.500" vector-effect="non-scaling-stroke" /></g></g>
<circle cx="1046.5" cy="817" r="212" fill="none" stroke="#3a3a3a" stroke-width="1.1" stroke-dasharray="39 7 9 7" stroke-dashoffset="20"/>
<circle cx="479.8" cy="870.9" r="77.7" fill="none" stroke="#3a3a3a" stroke-width="1.0" stroke-dasharray="39 7 9 7" stroke-dashoffset="10"/>
<line x1="443" y1="802.9" x2="1000.8" y2="611.1" stroke="#555" stroke-width="1.0" stroke-dasharray="39 7 9 7" stroke-dashoffset="40"/>
<g font-family="Liberation Sans, sans-serif" fill="#111" stroke="#111" stroke-width="0.3">
<text x="0" y="0" font-size="32.8" transform="translate(784.6 1171.3) scale(1.004 1)">Регулировка</text>
<text x="0" y="0" font-size="32.8" transform="translate(784.6 1208) scale(1.004 1)">1. Горизонтальная ±1,5 мм</text>
<text x="0" y="0" font-size="32.8" transform="translate(784.6 1244.8) scale(1.004 1)">2. Вертикальная</text>
<text x="0" y="0" font-size="32.8" transform="translate(784.6 1281.8) scale(1.004 1)">3. По глубине</text>
<text x="0" y="0" font-size="18.5" transform="translate(1043 1232.5) scale(1.0 1)">+3</text>
<text x="0" y="0" font-size="18.5" transform="translate(1043 1249.7) scale(1.0 1)">-0</text>
<text x="0" y="0" font-size="32.8" transform="translate(1074 1244.8) scale(1.004 1)">мм</text>
<text x="0" y="0" font-size="18.5" transform="translate(1005.5 1268.4) scale(1.0 1)">+3</text>
<text x="0" y="0" font-size="18.5" transform="translate(1005.5 1285.6) scale(1.0 1)">-0</text>
<text x="0" y="0" font-size="32.8" transform="translate(1030 1281.8) scale(1.004 1)">мм</text>
<text x="0" y="0" font-size="27.5" transform="translate(750.5 919.3) scale(0.98 1)">10~12</text>
<text x="0" y="0" font-size="27.5" transform="translate(801.5 1021.3) scale(1.0 1)">11</text>
<text x="0" y="0" font-size="27.5" transform="translate(765 1083.5) scale(1.0 1)">7</text>
</g>
</svg>
</body></html>
